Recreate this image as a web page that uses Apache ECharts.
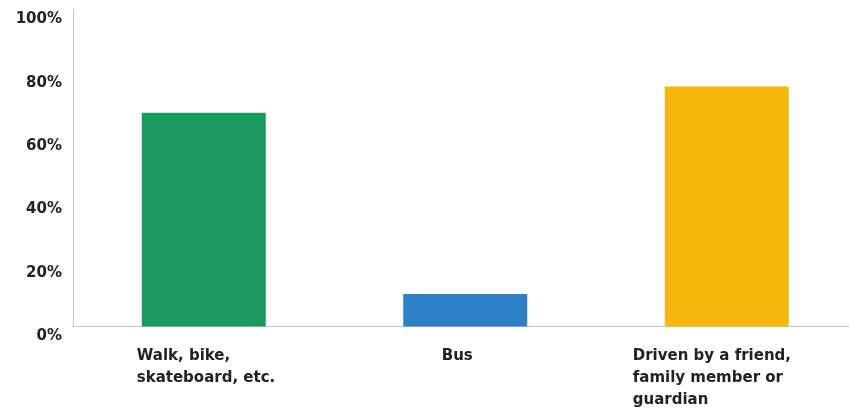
<!DOCTYPE html>
<html>
<head>
<meta charset="utf-8">
<script src="https://cdn.jsdelivr.net/npm/echarts@6/dist/echarts.min.js"></script>
<style>html,body{margin:0;padding:0;background:#fff}#c{width:849px;height:411px}</style>
</head>
<body>
<div id="c"></div>
<script>
var categories = ['Walk, bike,\nskateboard, etc.', 'Bus', 'Driven by a friend,\nfamily member or\nguardian'];
var values = [67.5, 10.3, 75.8];
var colors = ['#1b9a5f', '#3080c8', '#f6b80c'];
var yTicks = [0, 20, 40, 60, 80, 100];

var chart = echarts.init(document.getElementById('c'), null, {renderer: 'canvas'});
var font = '"DejaVu Sans", sans-serif';
var base = {fontFamily: font, fontWeight: 'bold', fontSize: 15, color: '#222', lineHeight: 22};
chart.setOption({
  animation: false,
  backgroundColor: '#fff',
  grid: {left: 73, width: 784.5, top: 10, height: 316.5, containLabel: false, outerBoundsMode: 'none'},
  xAxis: {
    type: 'category',
    data: categories,
    axisLine: {show: true, lineStyle: {color: '#c8c8c8', width: 1}},
    axisTick: {show: false},
    axisLabel: {
      margin: 19,
      interval: 0,
      formatter: function (v, i) {
        var key = ['a', 'b', 'c'][i];
        return v.split('\n').map(function (l) { return '{' + key + '|' + l + '}'; }).join('\n');
      },
      rich: {
        a: Object.assign({width: 140, align: 'left', padding: [0, 0, 0, 6]}, base),
        b: Object.assign({align: 'center', padding: [0, 16, 0, 0]}, base),
        c: Object.assign({width: 155, align: 'left', padding: [0, 33, 0, 0]}, base)
      }
    }
  },
  yAxis: {
    type: 'value',
    min: 0, max: 100, interval: 20,
    axisLine: {show: true, lineStyle: {color: '#bdbdbd', width: 1, type: 'dotted'}},
    axisTick: {show: false},
    splitLine: {show: false},
    axisLabel: {
      margin: 11,
      verticalAlign: 'top',
      padding: [2, 0, 0, 0],
      fontFamily: font, fontWeight: 'bold', fontSize: 15, color: '#222',
      formatter: function (v) { return yTicks.indexOf(v) >= 0 ? v + '%' : ''; }
    }
  },
  series: [{
    type: 'bar',
    barWidth: 124,
    data: values.map(function (v, i) { return {value: v, itemStyle: {color: colors[i]}}; })
  }]
});
</script>
</body>
</html>
